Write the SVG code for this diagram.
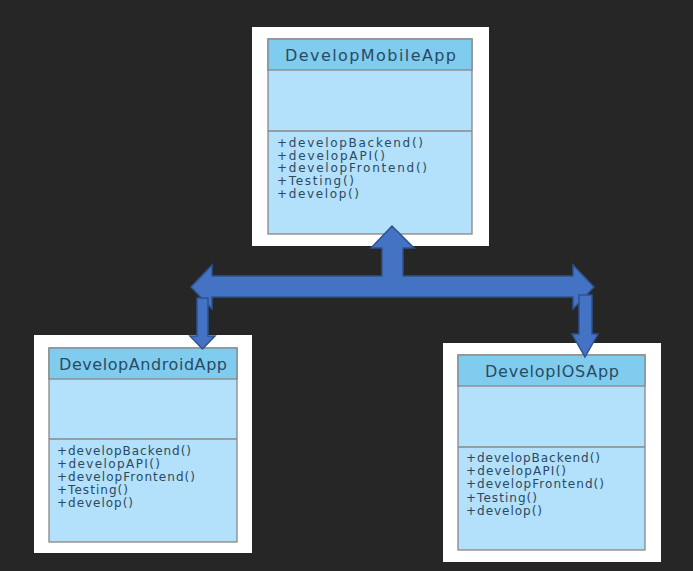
<svg xmlns="http://www.w3.org/2000/svg" width="693" height="571" viewBox="0 0 693 571">
<style>
.panel{fill:#ffffff}
.hdr{fill:#80CCEF;stroke:#888888;stroke-width:1.3}
.body{fill:#B3E0FB;stroke:#888888;stroke-width:1.3}
.title{font-family:"DejaVu Sans",Verdana,sans-serif;font-size:16px;fill:#2A4A62;text-anchor:middle}
.m{font-family:"DejaVu Sans",Verdana,sans-serif;font-size:12px;fill:#2A4A62}
.arrow{fill:#4472C4;stroke:#2F528F;stroke-width:1.5;stroke-linejoin:miter}
</style>
<rect x="0" y="0" width="693" height="571" fill="#262626"/>
<g id="DevelopMobileApp">
<rect class="panel" x="252" y="27" width="237" height="219"/>
<rect class="body" x="268" y="39" width="204" height="195"/>
<rect class="hdr" x="268" y="39" width="204" height="31"/>
<line x1="268" y1="131" x2="472" y2="131" stroke="#888888" stroke-width="1.3"/>
<text class="title" x="370.5" y="61" textLength="171" lengthAdjust="spacing">DevelopMobileApp</text>
<text class="m" x="277" y="147" textLength="146" lengthAdjust="spacing">+developBackend()</text>
<text class="m" x="277" y="159.5" textLength="108" lengthAdjust="spacing">+developAPI()</text>
<text class="m" x="277" y="172" textLength="150" lengthAdjust="spacing">+developFrontend()</text>
<text class="m" x="277" y="185" textLength="77" lengthAdjust="spacing">+Testing()</text>
<text class="m" x="277" y="198" textLength="82" lengthAdjust="spacing">+develop()</text>
</g>
<g id="DevelopAndroidApp">
<rect class="panel" x="34" y="335" width="218" height="218"/>
<rect class="body" x="49" y="348" width="188" height="194"/>
<rect class="hdr" x="49" y="348" width="188" height="31"/>
<line x1="49" y1="439" x2="237" y2="439" stroke="#888888" stroke-width="1.3"/>
<text class="title" x="143" y="370" textLength="168" lengthAdjust="spacing">DevelopAndroidApp</text>
<text class="m" x="57" y="455" textLength="134" lengthAdjust="spacing">+developBackend()</text>
<text class="m" x="57" y="468" textLength="103" lengthAdjust="spacing">+developAPI()</text>
<text class="m" x="57" y="481" textLength="138" lengthAdjust="spacing">+developFrontend()</text>
<text class="m" x="57" y="494" textLength="71" lengthAdjust="spacing">+Testing()</text>
<text class="m" x="57" y="507" textLength="76" lengthAdjust="spacing">+develop()</text>
</g>
<g id="DevelopIOSApp">
<rect class="panel" x="443" y="343" width="218" height="219"/>
<rect class="body" x="458" y="355" width="187" height="195"/>
<rect class="hdr" x="458" y="355" width="187" height="31"/>
<line x1="458" y1="447" x2="645" y2="447" stroke="#888888" stroke-width="1.3"/>
<text class="title" x="552" y="377" textLength="134" lengthAdjust="spacing">DevelopIOSApp</text>
<text class="m" x="466" y="462" textLength="134" lengthAdjust="spacing">+developBackend()</text>
<text class="m" x="466" y="475" textLength="100" lengthAdjust="spacing">+developAPI()</text>
<text class="m" x="466" y="488" textLength="138" lengthAdjust="spacing">+developFrontend()</text>
<text class="m" x="466" y="502" textLength="71" lengthAdjust="spacing">+Testing()</text>
<text class="m" x="466" y="515" textLength="76" lengthAdjust="spacing">+develop()</text>
</g>
<g id="connectors">
<polygon class="arrow" points="191,287 212,265 212,276 382,276 382,248 371,248 392,226 414,248 403,248 403,276 573,276 573,265 594,287 573,309 573,297 212,297 212,309"/>
<polygon class="arrow" points="197,298 208,298 208,336 215,336 202.5,349 190,336 197,336"/>
<polygon class="arrow" points="579,295 592,295 592,334 598,334 585,357 572,334 579,334"/>
</g>
</svg>
